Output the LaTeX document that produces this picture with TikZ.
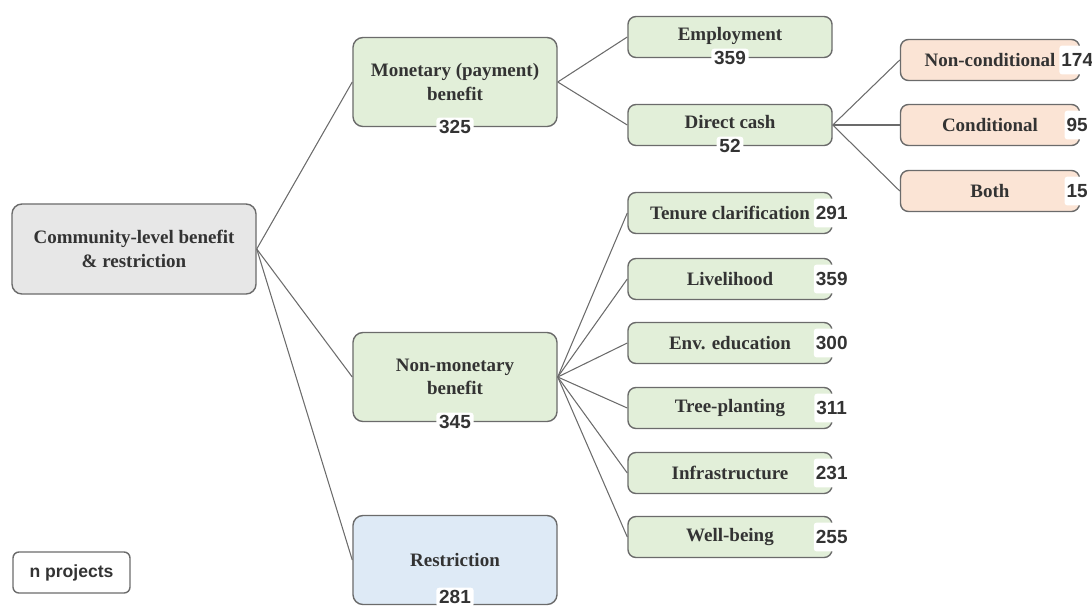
\documentclass[tikz,border=0pt]{standalone}
\usepackage{fontspec}
\setmainfont{Liberation Serif}
\newfontfamily\numfont{Liberation Sans}
\usetikzlibrary{calc}
\definecolor{boxline}{HTML}{6B6B6B}
\definecolor{boxtext}{HTML}{333333}
\definecolor{fillgray}{HTML}{E7E7E7}
\definecolor{fillgreen}{HTML}{E2EFD9}
\definecolor{fillblue}{HTML}{DEEAF6}
\definecolor{fillorange}{HTML}{FBE4D5}
\newcommand{\bw}{5.1cm}
\tikzset{
  box/.style={draw=boxline, line width=1pt, rounded corners=0.25cm, align=center,
    text=boxtext, font=\fontsize{13.5}{16.5}\selectfont\bfseries},
  bigbox/.style={box, minimum width=\bw, minimum height=2.225cm},
  smallbox/.style={box, minimum width=\bw, minimum height=1.025cm, rounded corners=0.2cm},
  orangebox/.style={box, fill=fillorange, minimum width=4.475cm, minimum height=1.025cm, rounded corners=0.2cm},
  num/.style={fill=white, inner sep=2pt, rounded corners=2pt, text=boxtext,
    font=\numfont\fontsize{13.5}{15}\selectfont\bfseries},
  sidenum/.style={num, minimum height=0.72cm, inner xsep=1.5pt},
  link/.style={draw=boxline, line width=0.75pt}
}
\begin{document}
\begin{tikzpicture}[x=0.025cm,y=-0.025cm]
\useasboundingbox (0,0) rectangle (1092,607);
% first and second level
\node[box, fill=fillgray, minimum width=6.1cm, minimum height=2.25cm] (root) at (134,249) {Community-level benefit\\ \& restriction};
\node[bigbox, fill=fillgreen] (mon) at (455,82) {Monetary (payment)\\ benefit};
\node[bigbox, fill=fillgreen] (nonmon) at (455,377) {Non-monetary\\ benefit};
\node[bigbox, fill=fillblue] (restr) at (455,560) {Restriction};
\node[num] (mon-n) at (mon.south) {325};
\node[num] (nonmon-n) at (nonmon.south) {345};
\node[num] (restr-n) at ($(restr.south)+(0,-8)$) {281};
\draw[link] (root.east) -- (mon.west);
\draw[link] (root.east) -- (nonmon.west);
\draw[link] (root.east) -- (restr.west);
% monetary branch
\node[smallbox, fill=fillgreen] (emp) at (730,37) {\raisebox{5pt}{Employment}};
\node[smallbox, fill=fillgreen] (cash) at (730,125) {\raisebox{4pt}{Direct cash}};
\node[num] (emp-n) at (emp.south) {359};
\node[num] (cash-n) at (cash.south) {52};
\draw[link] (mon.east) -- (emp.west);
\draw[link] (mon.east) -- (cash.west);
\foreach \nm/\txt/\n/\y in {ncond/Non-conditional/174/60, cond/Conditional/95/125, both/Both/15/191}{
  \node[orangebox] (\nm) at (990,\y) {\txt};
  \node[sidenum] (\nm-n) at ($(\nm.east)+(-3,0)$) {\n};
  \draw[link] (cash.east) -- (\nm.west);
}
% non-monetary branch
\foreach \nm/\txt/\n/\y in {ten/Tenure clarification/291/213, liv/Livelihood/359/279,
    env/Env. education/300/343, tree/Tree-planting/311/408,
    infra/Infrastructure/231/473, well/Well-being/255/537}{
  \node[smallbox, fill=fillgreen] (\nm) at (730,\y) {\txt};
  \node[sidenum] (\nm-n) at ($(\nm.east)+(-1,0)$) {\n};
  \draw[link] (nonmon.east) -- (\nm.west);
}
% legend
\node[draw=boxline, line width=1pt, rounded corners=0.15cm, minimum width=2.925cm, minimum height=1.025cm,
  text=boxtext, font=\numfont\fontsize{12.5}{14}\selectfont\bfseries] (legend) at (71.5,572.5) {n projects};
\end{tikzpicture}
\end{document}
